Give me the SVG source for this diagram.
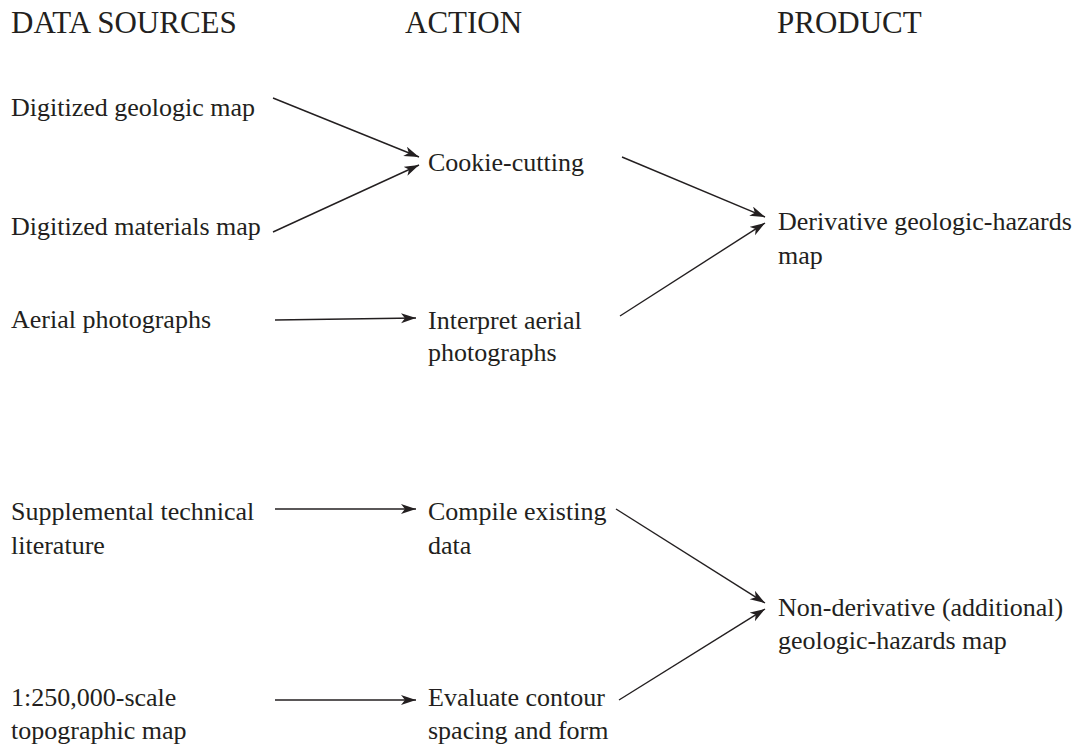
<svg xmlns="http://www.w3.org/2000/svg" width="1086" height="755" viewBox="0 0 1086 755">
<defs>
<marker id="ah" markerWidth="16" markerHeight="12" refX="15" refY="5" orient="auto" markerUnits="userSpaceOnUse">
<path d="M0,0 L15,5 L0,10 L4,5 Z" fill="#231f20"/>
</marker>
<style>
text{font-family:'Liberation Serif','Times New Roman',serif;fill:#231f20;font-size:26px}
.h{font-size:31px}
.c{stroke:#231f20;stroke-width:1.4;fill:none;marker-end:url(#ah)}
</style>
</defs>
<rect width="1086" height="755" fill="#fff"/>
<g id="headers">
<text class="h" x="11" y="33">DATA SOURCES</text>
<text class="h" x="405" y="33">ACTION</text>
<text class="h" x="777" y="33">PRODUCT</text>
</g>
<g id="n-geologic"><text x="11" y="116">Digitized geologic map</text></g>
<g id="n-materials"><text x="11" y="235">Digitized materials map</text></g>
<g id="n-aerial"><text x="11" y="328">Aerial photographs</text></g>
<g id="n-cookie"><text x="428" y="171">Cookie-cutting</text></g>
<g id="n-interpret"><text x="428" y="329">Interpret aerial</text><text x="428" y="361">photographs</text></g>
<g id="n-derivative"><text x="778" y="230">Derivative geologic-hazards</text><text x="778" y="264">map</text></g>
<g id="n-supplemental"><text x="11" y="520">Supplemental technical</text><text x="11" y="554">literature</text></g>
<g id="n-topo"><text x="11" y="706">1:250,000-scale</text><text x="11" y="739">topographic map</text></g>
<g id="n-compile"><text x="428" y="520">Compile existing</text><text x="428" y="554">data</text></g>
<g id="n-evaluate"><text x="428" y="706">Evaluate contour</text><text x="428" y="739">spacing and form</text></g>
<g id="n-nonderivative"><text x="778" y="616">Non-derivative (additional)</text><text x="778" y="649">geologic-hazards map</text></g>
<g id="connectors">
<line class="c" x1="273" y1="98" x2="419" y2="157"/>
<line class="c" x1="273" y1="232" x2="419" y2="165"/>
<line class="c" x1="275" y1="320" x2="416" y2="318"/>
<line class="c" x1="622" y1="157" x2="765" y2="217"/>
<line class="c" x1="620" y1="316" x2="765" y2="223"/>
<line class="c" x1="275" y1="509" x2="416" y2="509"/>
<line class="c" x1="616" y1="509" x2="765" y2="603"/>
<line class="c" x1="619" y1="700" x2="765" y2="609"/>
<line class="c" x1="275" y1="700" x2="416" y2="700"/>
</g>
</svg>
